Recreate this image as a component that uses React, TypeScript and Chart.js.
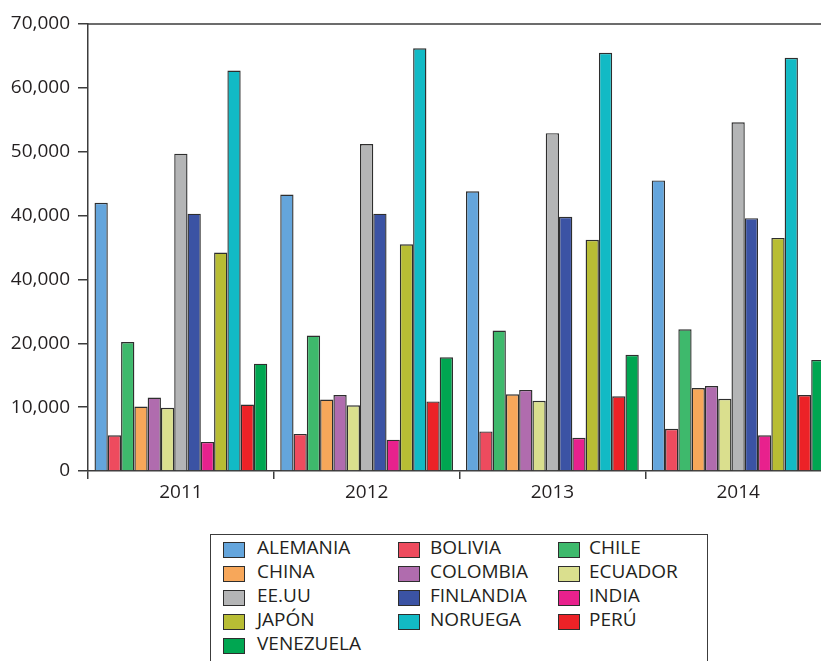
import React, { useEffect, useRef } from "react";
import { Chart, registerables } from "chart.js";
Chart.register(...registerables);

const years = ["2011", "2012", "2013", "2014"];
const countries = ["ALEMANIA", "BOLIVIA", "CHILE", "CHINA", "COLOMBIA", "ECUADOR", "EE.UU", "FINLANDIA", "INDIA", "JAPÓN", "NORUEGA", "PERÚ", "VENEZUELA"];
const alemania = [42000, 43300, 43800, 45500];
const bolivia = [5600, 5800, 6200, 6600];
const chile = [20200, 21200, 22000, 22200];
const china = [10100, 11200, 12000, 13000];
const colombia = [11500, 11900, 12700, 13300];
const ecuador = [9900, 10300, 11000, 11300];
const eeuu = [49700, 51200, 52900, 54600];
const finlandia = [40300, 40300, 39800, 39600];
const india = [4550, 4900, 5200, 5600];
const japon = [34200, 35500, 36200, 36500];
const noruega = [62700, 66200, 65500, 64700];
const peru = [10400, 10900, 11700, 11900];
const venezuela = [16800, 17800, 18200, 17400];
const yTickLabels = ["0", "10,000", "20,000", "40,000", "40,000", "50,000", "60,000", "70,000"];

const seriesValues = [alemania, bolivia, chile, china, colombia, ecuador, eeuu, finlandia, india, japon, noruega, peru, venezuela];
const colors = ["#64a5dc", "#ee4b5e", "#3eb96c", "#f7a75a", "#b06cae", "#dadf8e", "#b4b5b6", "#3b53a4", "#e8218d", "#b8bd34", "#12bac5", "#ec2227", "#00a651"];

const FONT = "'Open Sans', 'Noto Sans', sans-serif";
const INK = "#231f20";
const LINE = "#3c3c3c";

const frame = {
  id: "frame",
  afterDraw(chart: any) {
    const { ctx, chartArea } = chart;
    ctx.save();
    ctx.strokeStyle = LINE;
    ctx.lineWidth = 1.5;
    ctx.beginPath();
    ctx.moveTo(chartArea.left, chartArea.top);
    ctx.lineTo(chartArea.right, chartArea.top);
    ctx.lineTo(chartArea.right, chartArea.bottom);
    ctx.stroke();
    ctx.restore();
  },
};

export default function App() {
  const ref = useRef<HTMLCanvasElement | null>(null);
  useEffect(() => {
    if (!ref.current) return;
    const chart = new Chart(ref.current, {
      type: "bar",
      data: {
        labels: years,
        datasets: countries.map((c, i) => ({
          label: c,
          data: seriesValues[i],
          backgroundColor: colors[i],
          borderColor: "#2e2e2e",
          borderWidth: 1.4,
          barPercentage: 1,
          categoryPercentage: 0.93,
        })),
      },
      options: {
        responsive: false,
        animation: false,
        devicePixelRatio: 1,
        layout: { padding: { top: 24, right: 19, left: 0, bottom: 0 } },
        plugins: { legend: { display: false }, tooltip: { enabled: false } },
        scales: {
          x: {
            afterFit: (s: any) => { s.height = 59; },
            grid: { drawOnChartArea: false, offset: true, tickLength: 8, color: LINE, lineWidth: 1.5 },
            border: { color: LINE, width: 1.5 },
            ticks: { color: INK, font: { family: FONT, size: 19 }, padding: 2 },
          },
          y: {
            min: 0,
            max: 70000,
            afterFit: (s: any) => { s.width = 88; },
            grid: { drawOnChartArea: false, tickLength: 10, color: LINE, lineWidth: 1.5 },
            border: { color: LINE, width: 1.5 },
            ticks: {
              stepSize: 10000,
              color: INK,
              font: { family: FONT, size: 19 },
              padding: 8,
              callback: (_v: any, i: number) => yTickLabels[i],
            },
          },
        },
      },
      plugins: [frame],
    });
    return () => chart.destroy();
  }, []);

  const colLeft = [223, 398, 558];
  const textLeft = [257, 430, 589];

  return (
    <div style={{ position: "fixed", left: 0, top: 0, width: 821, height: 661, overflow: "hidden", background: "#fff" }}>
      <canvas ref={ref} width={850} height={530} style={{ position: "absolute", left: 0, top: 0 }} />
      <div style={{ position: "absolute", left: 210, top: 534, width: 498, height: 200, border: `1.5px solid ${LINE}`, boxSizing: "border-box" }} />
      {countries.map((c, i) => {
        const col = i % 3;
        const row = Math.floor(i / 3);
        return (
          <React.Fragment key={c}>
            <div style={{ position: "absolute", left: colLeft[col], top: 542 + row * 24, width: 22, height: 16, background: colors[i], border: "1.4px solid #2e2e2e", boxSizing: "border-box" }} />
            <div style={{ position: "absolute", left: textLeft[col], top: 535 + row * 24, lineHeight: "24px", fontSize: 19, fontFamily: FONT, color: INK, whiteSpace: "nowrap" }}>{c}</div>
          </React.Fragment>
        );
      })}
    </div>
  );
}
